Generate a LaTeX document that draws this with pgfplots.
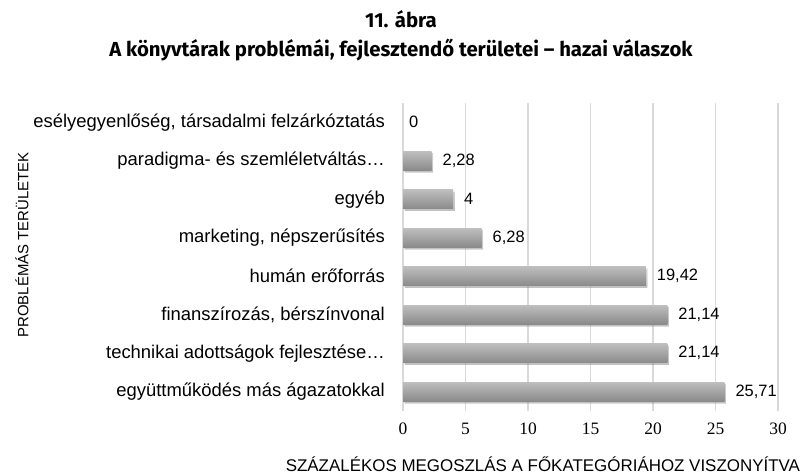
\documentclass[border=0pt]{standalone}
\usepackage{pgfplots}
\pgfplotsset{compat=1.18}
\usepackage{fontspec}
\usetikzlibrary{shadows}
\setmainfont{Liberation Sans}
\newfontfamily\serifnum{Liberation Serif}
\newfontfamily\titlefont{Fira Sans}
\definecolor{bartop}{RGB}{190,190,190}
\definecolor{barbot}{RGB}{138,138,138}
\definecolor{gridc}{RGB}{217,217,217}
\pgfplotsset{
  mybar/.style={draw=none, top color=bartop, bottom color=barbot, bar shift=0pt,
    drop shadow={shadow xshift=1.5bp, shadow yshift=-1.8bp, opacity=0.3}},
}
\begin{document}
\begin{tikzpicture}
\useasboundingbox (0,0) rectangle (804bp,474bp);
\node[font=\titlefont\bfseries\fontsize{20.4}{23}\selectfont, anchor=base] at (401bp,446bp) {11. ábra};
\node[font=\titlefont\bfseries\fontsize{20.4}{23}\selectfont, anchor=base] at (401bp,417bp) {A könyvtárak problémái, fejlesztendő területei – hazai válaszok};
\begin{axis}[
  at={(403bp,63bp)}, anchor=south west,
  scale only axis, width=375bp, height=308bp,
  xbar, bar width=19bp,
  xmin=0, xmax=30, ymin=-0.5, ymax=7.5,
  xtick={0,5,10,15,20,25,30},
  xticklabels={0,5,10,15,20,25,30},
  ytick={0,1,2,3,4,5,6,7},
  yticklabels={együttműködés más ágazatokkal, technikai adottságok fejlesztése…, {finanszírozás, bérszínvonal}, humán erőforrás, {marketing, népszerűsítés}, egyéb, paradigma- és szemléletváltás…, {esélyegyenlőség, társadalmi felzárkóztatás}},
  xmajorgrids, grid style={draw=gridc, line width=1.3bp},
  axis line style={draw=none},
  major tick length=0pt,
  xticklabel style={font=\serifnum\fontsize{17.5}{20}\selectfont, inner sep=0pt, yshift=-12bp},
  yticklabel style={font=\fontsize{18.5}{20}\selectfont, inner sep=0pt, xshift=-18bp},
  xlabel={SZÁZALÉKOS MEGOSZLÁS A FŐKATEGÓRIÁHOZ VISZONYÍTVA},
  xlabel style={font=\fontsize{17}{20}\selectfont, at={(axis description cs:0.373,-0.196)}, anchor=base, inner sep=0pt},
  ylabel={PROBLÉMÁS TERÜLETEK},
  ylabel style={font=\fontsize{15}{18}\selectfont, at={(axis description cs:-1.016,0.539)}, anchor=center, rotate=0, inner sep=0pt},
  nodes near coords={\pgfmathprintnumber[use comma, assume math mode=true]{\pgfplotspointmeta}},
  point meta=x,
  every node near coord/.append style={font=\fontsize{16.5}{19}\selectfont, anchor=west, inner sep=0pt, xshift=11bp, text=black},
  clip=false,
]
\addplot[mybar] coordinates {(25.71,0)};
\addplot[mybar] coordinates {(21.14,1)};
\addplot[mybar] coordinates {(21.14,2)};
\addplot[mybar] coordinates {(19.42,3)};
\addplot[mybar] coordinates {(6.28,4)};
\addplot[mybar] coordinates {(4,5)};
\addplot[mybar] coordinates {(2.28,6)};
\addplot[draw=none, fill=none, bar shift=0pt, every node near coord/.append style={xshift=-5bp}] coordinates {(0,7)};
\end{axis}
\end{tikzpicture}
\end{document}
